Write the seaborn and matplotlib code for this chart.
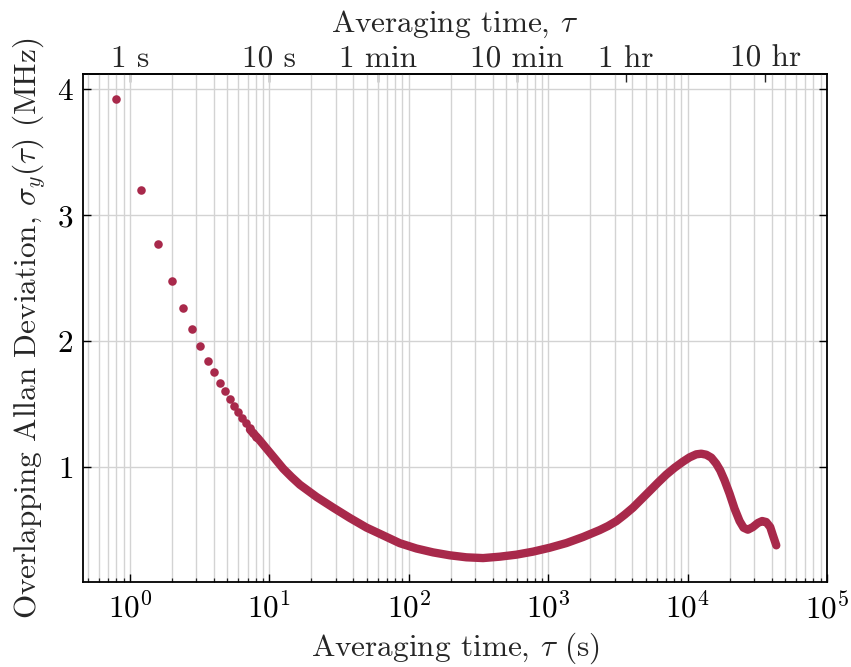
import matplotlib
matplotlib.use("Agg")
import matplotlib.pyplot as plt
import matplotlib.ticker as mticker
import seaborn as sns
import pandas as pd

# --- data ---
# sparse (individually visible) points, tau in s, sigma in MHz
tau_sparse = [0.8, 1.2, 1.6, 2.0, 2.4, 2.8, 3.2, 3.6, 4.0, 4.4, 4.8, 5.2,
              5.6, 6.0, 6.4, 6.8, 7.2, 7.6, 8.0]
sig_sparse = [3.92, 3.20, 2.77, 2.48, 2.26, 2.095, 1.96, 1.847, 1.754, 1.672,
              1.603, 1.54, 1.485, 1.435, 1.39, 1.35, 1.312, 1.275, 1.24]

# dense region (points overlap into a continuous band)
tau_dense = [7.25, 8.32, 9.55, 10.95, 12.57, 14.42, 16.55, 21.8, 28.7, 37.8,
             49.7, 65.5, 86.2, 113.5, 149.4, 196.7, 259, 341, 449, 591, 778,
             1025, 1349, 1777, 2340, 2685, 3083, 3535, 4058, 4656, 5344,
             6124, 7030, 8070, 9265, 10330, 11530, 12530, 13610, 14790,
             16040, 17130, 18410, 20000, 21720, 23590, 25190, 27060, 29380,
             31910, 34280, 36620, 39140, 40930, 43270]
sig_dense = [1.299, 1.228, 1.148, 1.069, 0.989, 0.923, 0.862, 0.765, 0.68,
             0.598, 0.522, 0.46, 0.398, 0.356, 0.325, 0.302, 0.286, 0.28,
             0.291, 0.307, 0.331, 0.362, 0.399, 0.447, 0.502, 0.534, 0.573,
             0.624, 0.68, 0.746, 0.812, 0.878, 0.942, 0.997, 1.045, 1.079,
             1.103, 1.108, 1.10, 1.077, 1.029, 0.976, 0.897, 0.791, 0.672,
             0.574, 0.521, 0.505, 0.526, 0.558, 0.574, 0.566, 0.526, 0.46,
             0.381]

top_tick_pos = [1, 10, 60, 600, 3600, 36000]
top_tick_lab = ["1 s", "10 s", "1 min", "10 min", "1 hr", "10 hr"]

color = "#a8294b"
FS = 22.5

sns.set_theme(style="ticks")
plt.rcParams["font.family"] = "serif"
plt.rcParams["font.serif"] = ["cmr10"]
plt.rcParams["mathtext.fontset"] = "cm"
plt.rcParams["axes.formatter.use_mathtext"] = True
plt.rcParams["font.size"] = FS

fig = plt.figure(figsize=(8.51, 6.67), dpi=100)
ax = fig.add_axes([0.0975, 0.1274, 0.8743, 0.7616])

df_sparse = pd.DataFrame({"tau": tau_sparse, "sig": sig_sparse})
df_dense = pd.DataFrame({"tau": tau_dense, "sig": sig_dense})

ax.set_xscale("log")
sns.lineplot(data=df_dense, x="tau", y="sig", ax=ax, color=color,
             linewidth=6.0, solid_capstyle="round", solid_joinstyle="round",
             zorder=3, sort=False)
sns.scatterplot(data=df_sparse, x="tau", y="sig", ax=ax, color=color,
                s=38, linewidth=0, zorder=4)

ax.set_xlim(0.46, 1e5)
ax.set_ylim(0.09, 4.12)
ax.set_yticks([1, 2, 3, 4])
ax.xaxis.set_major_locator(mticker.LogLocator(base=10, numticks=10))
ax.xaxis.set_minor_locator(mticker.LogLocator(base=10, subs=range(2, 10), numticks=20))
ax.yaxis.set_minor_locator(mticker.NullLocator())

ax.grid(True, which="both", axis="x", color="#d3d3d3", linewidth=1.0, zorder=0)
ax.grid(True, which="major", axis="y", color="#d3d3d3", linewidth=1.0, zorder=0)
ax.set_axisbelow(True)

for sp in ax.spines.values():
    sp.set_linewidth(1.3)
    sp.set_color("black")
    sp.set_visible(True)

ax.tick_params(axis="x", which="major", direction="in", length=6, width=1.0,
               top=False, bottom=True, labelsize=FS, pad=7, colors="black")
ax.tick_params(axis="x", which="minor", direction="in", length=3.2, width=0.9,
               top=False, bottom=True)
ax.tick_params(axis="y", which="major", direction="in", length=6, width=1.0,
               left=True, right=True, labelsize=FS, pad=7, colors="black")

ax.set_xlabel(r"Averaging time, $\tau$ (s)", fontsize=FS, labelpad=4)
ax.set_ylabel(r"Overlapping Allan Deviation, $\sigma_y(\tau)$ (MHz)",
              fontsize=FS, labelpad=6)

sec = ax.secondary_xaxis("top")
sec.set_xticks(top_tick_pos)
sec.set_xticklabels(top_tick_lab)
sec.xaxis.set_minor_locator(mticker.NullLocator())
sec.tick_params(axis="x", which="major", direction="in", length=6, width=1.0,
                labelsize=FS, pad=1)
sec.spines["top"].set_linewidth(1.3)
sec.set_xlabel(r"Averaging time, $\tau$", fontsize=FS, labelpad=9)

fig.savefig("out.png", dpi=100)
